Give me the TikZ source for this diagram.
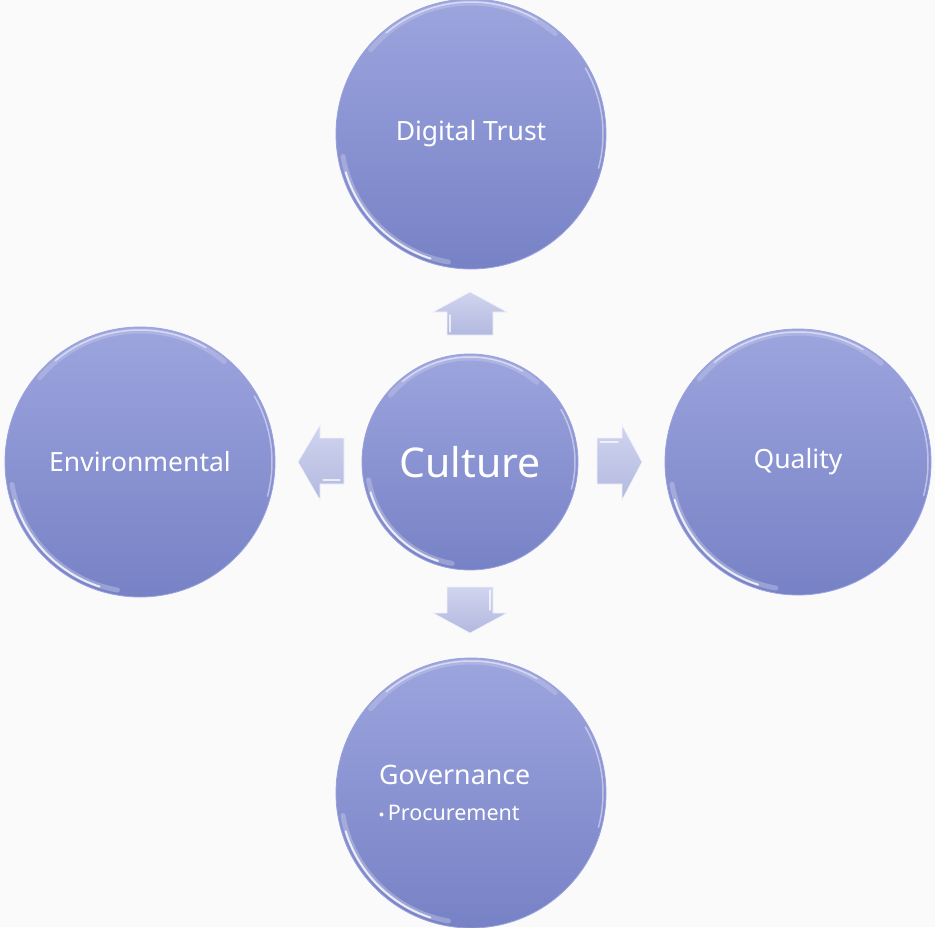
\documentclass[tikz,border=0pt]{standalone}
\usepackage{fontspec}
\setmainfont{Noto Sans}
\definecolor{bg}{HTML}{FAFAFA}
\definecolor{bubtop}{HTML}{9DA5DE}
\definecolor{bubbot}{HTML}{7782C6}
\definecolor{bubedge}{HTML}{9AA2DE}
\definecolor{arrtop}{HTML}{D0D4EF}
\definecolor{arrbot}{HTML}{B3B9DF}
\begin{document}
\begin{tikzpicture}[x=1pt,y=1pt,
  bubble/.style={circle, minimum size=#1, inner sep=0pt, top color=bubtop, bottom color=bubbot, draw=bubedge, line width=0.8pt, text=white},
  blockarrow/.style={top color=arrtop, bottom color=arrbot, draw=white!70!arrtop, line width=0.6pt},
  hl/.style={white, line cap=round, line width=#1},
  txt/.style={font=\fontsize{26.5}{30}\selectfont}
]
\fill[bg] (0,0) rectangle (935,-927);
\useasboundingbox (0,0) rectangle (935,-927);

% circles
\node[bubble=270] (T) at (471,-134) {};
\node[bubble=270] (L) at (140,-462) {};
\node[bubble=266] (R) at (798,-462) {};
\node[bubble=270] (B) at (471,-793) {};
\node[bubble=216] (C) at (470,-462) {};

% glossy highlights
\foreach \n/\r in {T/135,L/135,R/133,B/135,C/108}{
  \draw[hl=5pt, opacity=.18] (\n.center) ++(140:\r-4) arc[start angle=140, end angle=50, radius=\r-4];
  \draw[hl=1.5pt, opacity=.5] (\n.center) ++(130:\r-3) arc[start angle=130, end angle=60, radius=\r-3];
  \draw[hl=5pt, opacity=.25] (\n.center) ++(190:\r-5) arc[start angle=190, end angle=260, radius=\r-5];
  \draw[hl=2pt, opacity=.8] (\n.center) ++(197:\r-4) arc[start angle=197, end angle=252, radius=\r-4];
  \draw[hl=1.5pt, opacity=.45] (\n.center) ++(-15:\r-3) arc[start angle=-15, end angle=30, radius=\r-3];
}

% block arrows
\draw[blockarrow] (470,-292) -- (507,-312) -- (493,-312) -- (493,-335) -- (447,-335) -- (447,-312) -- (433,-312) -- cycle;
\draw[blockarrow] (470,-633) -- (507,-613) -- (493,-613) -- (493,-587) -- (447,-587) -- (447,-613) -- (433,-613) -- cycle;
\draw[blockarrow] (298,-462) -- (320,-425) -- (320,-438) -- (344,-438) -- (344,-484) -- (320,-484) -- (320,-500) -- cycle;
\draw[blockarrow] (642,-462) -- (622,-425) -- (622,-438) -- (597,-438) -- (597,-484) -- (622,-484) -- (622,-500) -- cycle;
\draw[hl=1.2pt, opacity=.7] (450,-315) -- (450,-332);
\draw[hl=1.2pt, opacity=.7] (490,-590) -- (490,-610);
\draw[hl=1.2pt, opacity=.7] (323,-480) -- (340,-480);
\draw[hl=1.2pt, opacity=.7] (600,-442) -- (618,-442);

% labels
\node[txt, text=white] (tT) at (T.center) {Digital Trust};
\node[txt, text=white] (tL) at (L.center) {Environmental};
\node[txt, text=white] (tR) at (R.center) {Quality};
\node[font=\fontsize{41}{46}\selectfont, text=white] (tC) at (C.center) {Culture};
\node[font=\fontsize{26.8}{30}\selectfont, text=white, anchor=west, inner sep=0pt] (tB) at (379,-775) {Governance};
\node[font=\fontsize{21.5}{25}\selectfont, text=white, anchor=west, inner sep=0pt] (tB2) at (379,-813) {{\fontsize{10}{12}\selectfont\raisebox{3.5pt}{$\bullet$}}\,Procurement};
\end{tikzpicture}
\end{document}
